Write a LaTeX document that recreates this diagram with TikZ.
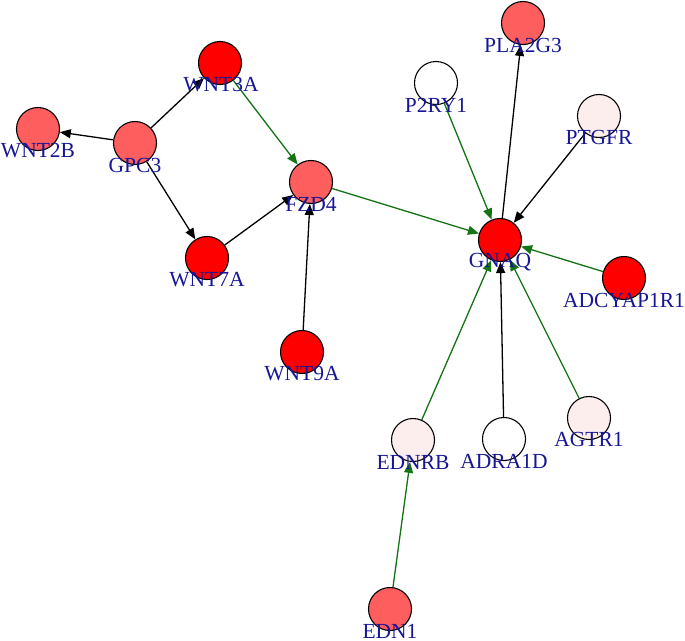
\documentclass[tikz,border=0pt]{standalone}
\usepackage{fontspec}
\setmainfont{Liberation Serif}
\usetikzlibrary{arrows.meta}
\definecolor{nred}{RGB}{255,0,0}
\definecolor{nlred}{RGB}{255,94,94}
\definecolor{npink}{RGB}{253,238,238}
\definecolor{lblue}{RGB}{22,22,150}
\definecolor{egreen}{RGB}{20,115,20}
\tikzset{
  gene/.style={circle,draw=black,line width=1.1pt,minimum size=43pt,inner sep=0pt},
  lbl/.style={text=lblue,font=\fontsize{21.5}{23}\selectfont,inner sep=0pt},
  blk/.style={draw=black,line width=1.3pt,-{Triangle[length=11pt,width=9pt]}},
  grn/.style={draw=egreen,line width=1.3pt,-{Triangle[length=11pt,width=9pt]},fill=egreen},
}
\begin{document}
\begin{tikzpicture}[x=1pt,y=-1pt]
\useasboundingbox (0,0) rectangle (685,640);
% circles
\node[gene,fill=nred]  (WNT3A) at (220,63) {};
\node[gene,fill=nlred] (PLA2G3) at (523,23) {};
\node[gene,fill=white] (P2RY1) at (436,83) {};
\node[gene,fill=npink] (PTGFR) at (599,116) {};
\node[gene,fill=nlred] (WNT2B) at (38,129) {};
\node[gene,fill=nlred] (GPC3) at (135,143) {};
\node[gene,fill=nlred] (FZD4) at (311,182) {};
\node[gene,fill=nred]  (GNAQ) at (500,240) {};
\node[gene,fill=nred]  (WNT7A) at (207,258) {};
\node[gene,fill=nred]  (ADCYAP1R1) at (624,278) {};
\node[gene,fill=nred]  (WNT9A) at (302,352) {};
\node[gene,fill=npink] (EDNRB) at (413,440) {};
\node[gene,fill=white] (ADRA1D) at (504,439) {};
\node[gene,fill=npink] (AGTR1) at (589,418) {};
\node[gene,fill=nlred] (EDN1) at (390,609) {};
% edges
\draw[blk] (GPC3) -- (WNT2B);
\draw[blk] (GPC3) -- (WNT3A);
\draw[blk] (GPC3) -- (WNT7A);
\draw[grn] (WNT3A) -- (FZD4);
\draw[blk] (WNT7A) -- (FZD4);
\draw[blk] (WNT9A) -- (FZD4);
\draw[grn] (FZD4) -- (GNAQ);
\draw[blk] (GNAQ) -- (PLA2G3);
\draw[grn] (P2RY1) -- (GNAQ);
\draw[blk] (PTGFR) -- (GNAQ);
\draw[grn] (ADCYAP1R1) -- (GNAQ);
\draw[grn] (AGTR1) -- (GNAQ);
\draw[blk] (ADRA1D) -- (GNAQ);
\draw[grn] (EDNRB) -- (GNAQ);
\draw[grn] (EDN1) -- (EDNRB);
% labels
\node[lbl] (tWNT3A) at (221,85) {WNT3A};
\node[lbl] (tPLA2G3) at (523,45) {PLA2G3};
\node[lbl] (tP2RY1) at (436,105) {P2RY1};
\node[lbl] (tPTGFR) at (599,137) {PTGFR};
\node[lbl] (tWNT2B) at (38,151) {WNT2B};
\node[lbl] (tGPC3) at (135,165) {GPC3};
\node[lbl] (tFZD4) at (311,204) {FZD4};
\node[lbl] (tGNAQ) at (500,262) {GNAQ};
\node[lbl] (tWNT7A) at (207,280) {WNT7A};
\node[lbl] (tADCYAP1R1) at (624,300) {ADCYAP1R1};
\node[lbl] (tWNT9A) at (302,374) {WNT9A};
\node[lbl] (tEDNRB) at (413,462) {EDNRB};
\node[lbl] (tADRA1D) at (504,461) {ADRA1D};
\node[lbl] (tAGTR1) at (589,439) {AGTR1};
\node[lbl] (tEDN1) at (390,631) {EDN1};
\end{tikzpicture}
\end{document}
